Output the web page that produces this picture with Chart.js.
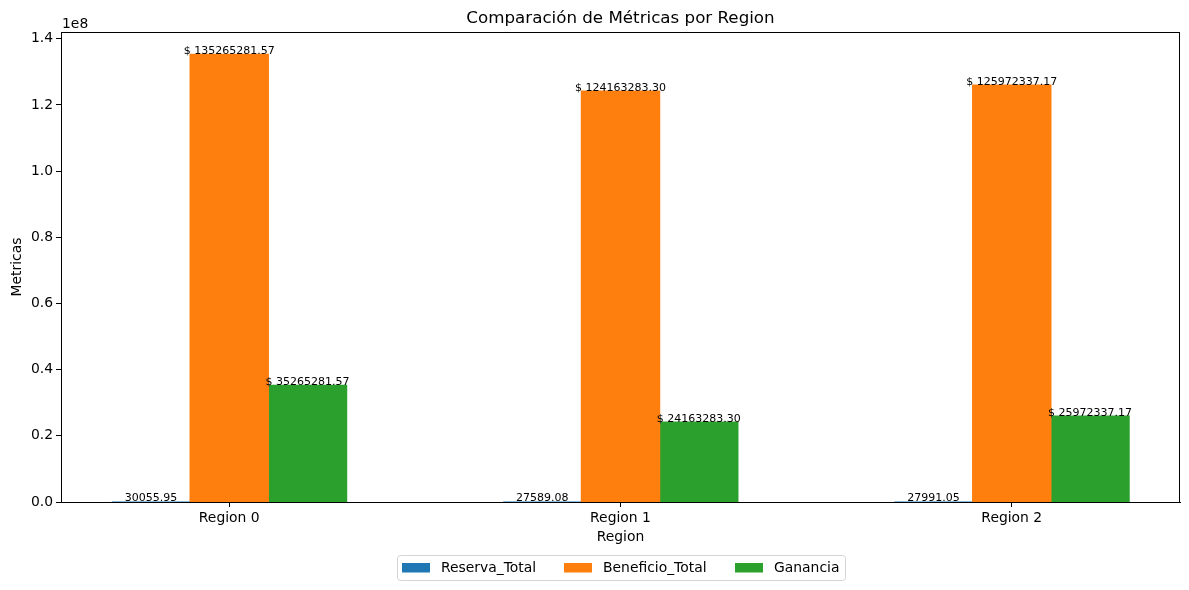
<!DOCTYPE html>
<html>
<head>
<meta charset="utf-8">
<script src="https://cdn.jsdelivr.net/npm/chart.js@4"></script>
<style>
  html, body { margin: 0; padding: 0; background: #fff; }
  #wrap { width: 1189px; height: 590px; }
</style>
</head>
<body>
<div id="wrap"><canvas id="chart" width="1189" height="590"></canvas></div>
<script>
const regions = ["Region 0", "Region 1", "Region 2"];
const reservaTotal = [30055.95, 27589.08, 27991.05];
const beneficioTotal = [135265281.57, 124163283.30, 125972337.17];
const ganancia = [35265281.57, 24163283.30, 25972337.17];
const yTicks = [0, 0.2e8, 0.4e8, 0.6e8, 0.8e8, 1.0e8, 1.2e8, 1.4e8];

const FONT = "'DejaVu Sans', sans-serif";
const colors = ["#1f77b4", "#ff7f0e", "#2ca02c"];
const seriesNames = ["Reserva_Total", "Beneficio_Total", "Ganancia"];

function points(values) {
  return values.map((v, i) => ({ x: i, y: v }));
}

// box around plot, value labels, title, axis titles, legend
const decorPlugin = {
  id: "decor",
  afterDatasetsDraw(chart) {
    const ctx = chart.ctx;
    ctx.save();
    ctx.font = "11px " + FONT;
    ctx.fillStyle = "#000";
    ctx.textAlign = "center";
    ctx.textBaseline = "alphabetic";
    chart.data.datasets.forEach((ds, di) => {
      const meta = chart.getDatasetMeta(di);
      meta.data.forEach((bar, i) => {
        const v = ds.data[i].y;
        const txt = di === 0 ? v.toFixed(2) : "$ " + v.toFixed(2);
        ctx.fillText(txt, bar.x, bar.y - 0.5);
      });
    });
    ctx.restore();
  },
  afterDraw(chart) {
    const ctx = chart.ctx;
    const a = chart.chartArea;
    ctx.save();
    ctx.strokeStyle = "#000";
    ctx.lineWidth = 1;
    ctx.strokeRect(a.left + 0.5, a.top + 0.5, a.right - a.left - 1, a.bottom - a.top);

    ctx.fillStyle = "#000";
    ctx.textAlign = "center";
    ctx.textBaseline = "middle";
    const cx = (a.left + a.right) / 2;
    ctx.font = "16.7px " + FONT;
    ctx.fillText("Comparación de Métricas por Region", cx, 19);

    ctx.font = "13.9px " + FONT;
    ctx.fillText("Region", cx, 537);
    ctx.textAlign = "left";
    ctx.fillText("1e8", a.left + 1, 24);

    ctx.save();
    ctx.translate(17, (a.top + a.bottom) / 2);
    ctx.rotate(-Math.PI / 2);
    ctx.textAlign = "center";
    ctx.fillText("Metricas", 0, 0);
    ctx.restore();

    // legend
    const lx = 397, ly = 555, lw = 448, lh = 25;
    ctx.beginPath();
    ctx.roundRect(lx + 0.5, ly + 0.5, lw, lh, 3);
    ctx.fillStyle = "rgba(255,255,255,0.8)";
    ctx.fill();
    ctx.strokeStyle = "#d5d5d5";
    ctx.stroke();
    const itemX = [402, 564, 735];
    ctx.font = "13.9px " + FONT;
    ctx.textAlign = "left";
    seriesNames.forEach((name, i) => {
      ctx.fillStyle = colors[i];
      ctx.fillRect(itemX[i], ly + 8, 28, 9.5);
      ctx.fillStyle = "#000";
      ctx.fillText(name, itemX[i] + 39, ly + 13);
    });
    ctx.restore();
  }
};

new Chart(document.getElementById("chart").getContext("2d"), {
  type: "bar",
  data: {
    datasets: [
      { label: seriesNames[0], data: points(reservaTotal), backgroundColor: colors[0], inflateAmount: 0 },
      { label: seriesNames[1], data: points(beneficioTotal), backgroundColor: colors[1], inflateAmount: 0.6 },
      { label: seriesNames[2], data: points(ganancia), backgroundColor: colors[2], inflateAmount: 0.6 }
    ]
  },
  options: {
    responsive: false,
    animation: false,
    layout: { padding: { top: 32, right: 9, bottom: 0, left: 0 } },
    datasets: {
      bar: { categoryPercentage: 0.6, barPercentage: 1.0, borderWidth: 0 }
    },
    plugins: {
      legend: { display: false },
      title: { display: false },
      tooltip: { enabled: false }
    },
    scales: {
      x: {
        type: "linear",
        min: -0.43,
        max: 2.43,
        offset: false,
        afterBuildTicks(scale) {
          scale.ticks = regions.map((r, i) => ({ value: i }));
        },
        afterFit(scale) { scale.height = 88; },
        ticks: {
          color: "#000",
          font: { family: FONT, size: 13.9 },
          padding: 3,
          maxRotation: 0,
          autoSkip: false,
          callback: (v) => regions[v]
        },
        grid: {
          drawOnChartArea: false,
          drawTicks: true,
          tickLength: 5,
          color: "#000",
          offset: false
        },
        border: { display: true, color: "#000" }
      },
      y: {
        min: 0,
        max: 135265281.57 * 1.05,
        afterBuildTicks(scale) {
          scale.ticks = yTicks.map((v) => ({ value: v }));
        },
        afterFit(scale) { scale.width = 61; },
        ticks: {
          color: "#000",
          font: { family: FONT, size: 13.9 },
          padding: 3,
          callback: (v) => (v / 1e8).toFixed(1)
        },
        grid: {
          drawOnChartArea: false,
          drawTicks: true,
          tickLength: 5,
          color: "#000"
        },
        border: { display: true, color: "#000" }
      }
    }
  },
  plugins: [decorPlugin]
});
</script>
</body>
</html>
